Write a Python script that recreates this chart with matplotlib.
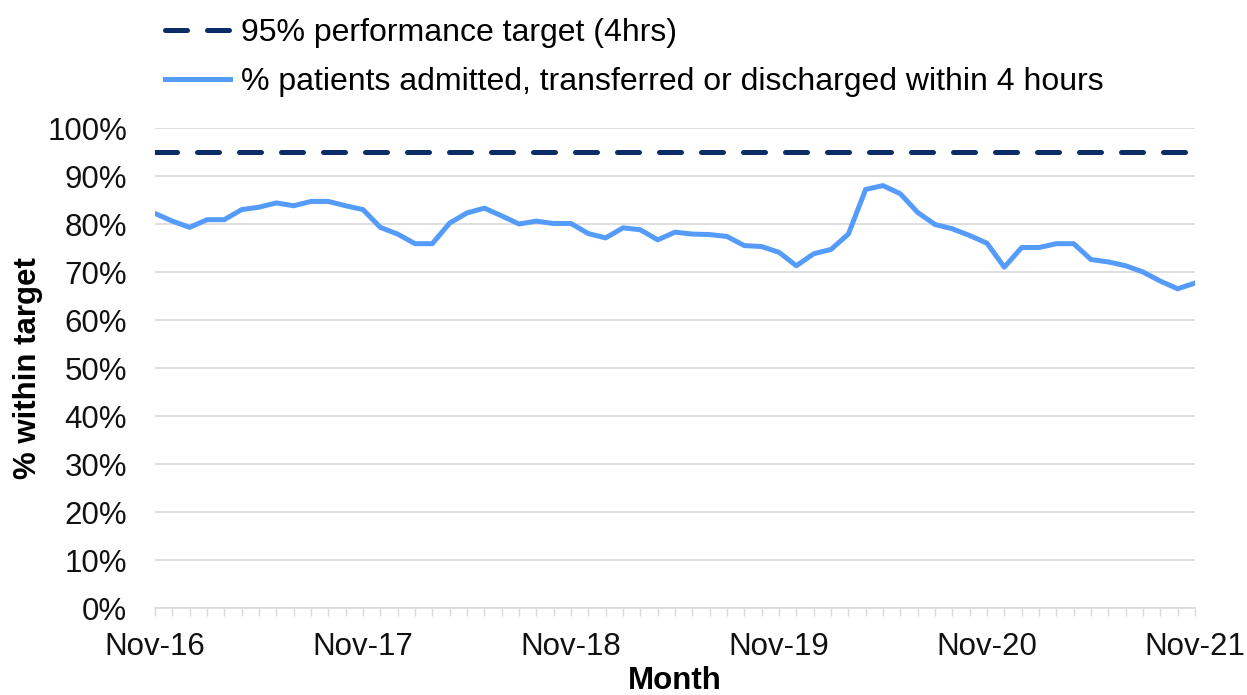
import numpy as np
import matplotlib.pyplot as plt
import matplotlib.ticker as mticker

plt.rcParams['font.family'] = ['Liberation Sans', 'DejaVu Sans']

# monthly series, Nov-16 .. Nov-21 (61 months)
month_labels = ['Nov-16', 'Nov-17', 'Nov-18', 'Nov-19', 'Nov-20', 'Nov-21']
pct_within_4h = [
    82.2, 80.6, 79.3, 80.9, 80.9, 83.0, 83.5, 84.4, 83.8, 84.7, 84.7, 83.8,
    83.0, 79.3, 77.9, 75.9, 75.9, 80.2, 82.3, 83.3, 81.7, 80.0, 80.6, 80.1,
    80.1, 78.0, 77.1, 79.2, 78.8, 76.7, 78.3, 77.9, 77.8, 77.4, 75.5, 75.3,
    74.1, 71.3, 73.8, 74.7, 77.9, 87.2, 88.0, 86.3, 82.4, 79.9, 79.0, 77.6,
    76.0, 71.0, 75.1, 75.1, 75.9, 75.9, 72.6, 72.1, 71.3, 70.0, 68.1, 66.5,
    67.7,
]
target = 95

navy = '#0A2D68'
light_blue = '#559CFA'
fs = 22.5

months = np.arange(len(pct_within_4h))

fig = plt.figure(figsize=(12.47, 6.95), dpi=100)
ax = fig.add_axes([155 / 1247, 1 - 608 / 695, 1040 / 1247, 480 / 695])

ax.plot(months, [target] * len(months), color=navy, lw=3.6,
        dashes=(4.4, 4.0), dash_capstyle='round',
        label='95% performance target (4hrs)')
ax.plot(months, pct_within_4h, color=light_blue, lw=3.6,
        solid_joinstyle='round', label='% patients admitted, transferred or discharged within 4 hours')

ax.set_xlim(0, len(months) - 1)
ax.set_ylim(0, 100)
ax.yaxis.set_major_locator(mticker.MultipleLocator(10))
ax.yaxis.set_major_formatter(mticker.FuncFormatter(lambda v, p: f'{v:.0f}%'))
ax.set_xticks(np.arange(0, len(months), 12))
ax.set_xticklabels(month_labels)
ax.set_xticks(months, minor=True)

ax.grid(axis='y', color='#D9D9D9', lw=1.2)
ax.set_axisbelow(True)
for s in ['top', 'right', 'left']:
    ax.spines[s].set_visible(False)
ax.spines['bottom'].set_color('#D9D9D9')
ax.spines['bottom'].set_linewidth(1.2)

ax.tick_params(axis='y', length=0, pad=20, labelsize=fs, labelcolor='#111111')
ax.tick_params(axis='x', which='both', length=5.5, color='#D9D9D9', width=1)
ax.tick_params(axis='x', which='major', pad=12, labelsize=fs, labelcolor='#111111')

ax.set_ylabel('% within target', fontsize=fs, fontweight='bold')
ax.yaxis.set_label_coords((43 - 155) / 1040, 0.5)
ax.set_xlabel('Month', fontsize=fs, fontweight='bold')
ax.xaxis.set_label_coords(0.5, (608 - 666) / 480)

fig.legend(loc='upper left', bbox_to_anchor=(165 / 1247, 1 - 18 / 695),
           frameon=False, fontsize=23, handlelength=2.05, handletextpad=0.33,
           labelspacing=0.6, borderaxespad=0, borderpad=0)

fig.savefig('out.png', dpi=100)
